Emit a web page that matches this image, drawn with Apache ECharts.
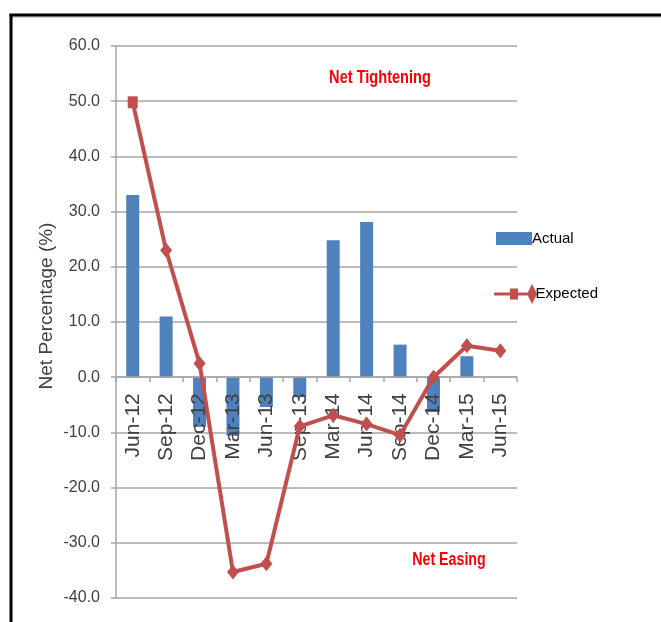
<!DOCTYPE html>
<html>
<head>
<meta charset="utf-8">
<title>Net Percentage – Actual vs Expected</title>
<script src="https://cdn.jsdelivr.net/npm/echarts@6/dist/echarts.min.js"></script>
<style>
  html, body { margin: 0; padding: 0; background: #ffffff; }
  #chart { width: 661px; height: 622px; }
</style>
</head>
<body>
<div id="chart"></div>
<script>
// Quarterly survey results, net percentage of respondents
const categories = ['Jun-12', 'Sep-12', 'Dec-12', 'Mar-13', 'Jun-13', 'Sep-13',
                    'Mar-14', 'Jun-14', 'Sep-14', 'Dec-14', 'Mar-15', 'Jun-15'];
const actual   = [33.0, 11.0, -9.0, -10.6, -5.4, -3.6, 24.8, 28.1, 5.9, -6.3, 3.8, null];
const expected = [49.8, 23.0, 2.5, -35.3, -33.8, -8.9, -6.9, -8.5, -10.5, 0.0, 5.7, 4.8];
const yTicks = { min: -40, max: 60, step: 10 };

const regular = '"Liberation Sans", Arial, sans-serif';
const barBlue = '#4F81BD';
const lineRed = '#C0504D';
const gridGray = '#A6A6A6';

// First point of the expected series uses a square marker, the rest diamonds
const expectedData = expected.map((v, i) => i === 0
  ? { value: v, symbol: 'rect', symbolSize: [10, 12] }
  : { value: v, symbol: 'diamond', symbolSize: [12, 15] });

const expectedIcon = 'path://M0 8.5 L16 8.5 L16 4.5 L24 4.5 L24 8.5 L34 8.5 L34 11.5 L24 11.5 L24 15.5 L16 15.5 L16 11.5 L0 11.5 Z M33 10 L38 0 L43 10 L38 20 Z';

const chart = echarts.init(document.getElementById('chart'), null, { renderer: 'canvas' });

chart.setOption({
  backgroundColor: '#ffffff',
  animation: false,
  grid: { left: 116, top: 46, right: 144, bottom: 24, outerBoundsMode: 'none', containLabel: false },
  legend: [
    {
      data: [{ name: 'Actual', icon: 'rect' }],
      left: 491, top: 226,
      itemWidth: 36, itemHeight: 13,
      textStyle: { fontFamily: regular, fontSize: 15, color: '#000000', padding: [0, 0, 0, -5] },
      selectedMode: false
    },
    {
      data: [{ name: 'Expected', icon: expectedIcon }],
      left: 489, top: 279,
      itemWidth: 44, itemHeight: 20,
      textStyle: { fontFamily: regular, fontSize: 15, color: '#000000', padding: [0, 0, 0, -7] },
      selectedMode: false
    }
  ],
  xAxis: {
    type: 'category',
    data: categories,
    boundaryGap: true,
    position: 'bottom',
    offset: 0,
    z: 3,
    axisLine: { onZero: false, lineStyle: { color: gridGray, width: 1.5 } },
    axisTick: { show: true, length: 5, inside: false, lineStyle: { color: gridGray, width: 1.5 } },
    axisLabel: {
      rotate: 90, margin: 16, interval: 0,
      fontFamily: regular, fontSize: 21, color: '#404040'
    },
    splitLine: { show: false }
  },
  yAxis: {
    type: 'value',
    min: yTicks.min, max: yTicks.max, interval: yTicks.step,
    axisLine: { show: true, lineStyle: { color: gridGray, width: 1.5 } },
    axisTick: { show: true, length: 5, inside: false, lineStyle: { color: gridGray, width: 1.5 } },
    axisLabel: {
      margin: 16, fontFamily: regular, fontSize: 16, color: '#404040',
      formatter: v => v.toFixed(1)
    },
    splitLine: { show: true, lineStyle: { color: gridGray, width: 1.5 } }
  },
  series: [
    {
      name: 'Actual',
      type: 'bar',
      data: actual,
      barWidth: 13,
      itemStyle: { color: barBlue },
      z: 2
    },
    {
      name: 'Expected',
      type: 'line',
      data: expectedData,
      lineStyle: { color: lineRed, width: 4 },
      itemStyle: { color: lineRed },
      symbol: 'diamond',
      symbolSize: [12, 15],
      showAllSymbol: true,
      z: 4
    }
  ],
  graphic: [
    // framing lines along the top and left edges
    { type: 'line', shape: { x1: 10, y1: 17, x2: 661, y2: 17 }, style: { stroke: '#b0b0b0', lineWidth: 1 }, silent: true },
    { type: 'line', shape: { x1: 9.5, y1: 15, x2: 661, y2: 15 }, style: { stroke: '#000000', lineWidth: 3 }, silent: true },
    { type: 'line', shape: { x1: 11, y1: 14, x2: 11, y2: 622 }, style: { stroke: '#000000', lineWidth: 3 }, silent: true },
    // y-axis title
    {
      type: 'text', x: 47, y: 306, rotation: Math.PI / 2,
      style: {
        text: 'Net Percentage (%)', fontFamily: regular, fontSize: 19,
        fill: '#404040', align: 'center', verticalAlign: 'middle'
      }
    },
    // region annotations (condensed horizontally)
    {
      type: 'text', x: 380, y: 78, scaleX: 0.81,
      style: {
        text: 'Net Tightening', fontFamily: regular, fontSize: 18, fontWeight: 'bold',
        fill: '#FF0000', align: 'center', verticalAlign: 'middle'
      }
    },
    {
      type: 'text', x: 449, y: 560, scaleX: 0.79,
      style: {
        text: 'Net Easing', fontFamily: regular, fontSize: 18, fontWeight: 'bold',
        fill: '#FF0000', align: 'center', verticalAlign: 'middle'
      }
    }
  ]
});

// Lift the category axis (line, ticks and labels) up to the zero line of the value axis
const zeroY = chart.convertToPixel({ yAxisIndex: 0 }, 0);
const bottomY = chart.convertToPixel({ yAxisIndex: 0 }, yTicks.min);
chart.setOption({ xAxis: { offset: zeroY - bottomY } });
</script>
</body>
</html>
